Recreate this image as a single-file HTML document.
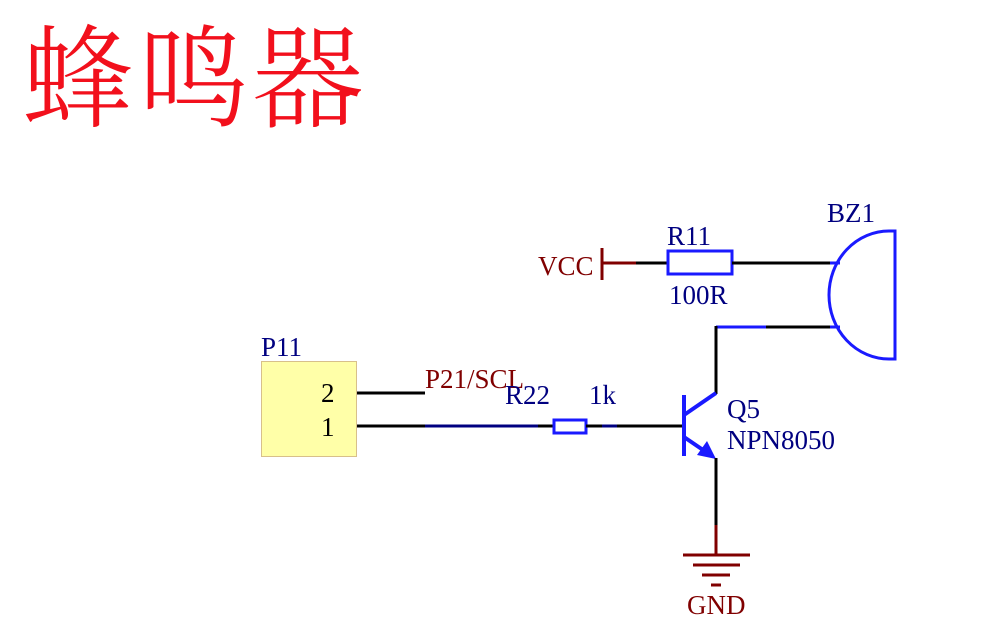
<!DOCTYPE html>
<html><head><meta charset="utf-8"><style>
html,body{margin:0;padding:0;background:#fff;}
svg{display:block}
text{font-family:"Liberation Serif",serif;}
</style></head><body>
<svg width="990" height="633" viewBox="0 0 990 633" xmlns="http://www.w3.org/2000/svg">
<text x="22" y="118" font-size="112" fill="#f2101c" style='font-family:"Liberation Serif","Noto Serif CJK SC",serif;font-weight:300' letter-spacing="3">蜂鸣器</text>

<text x="538" y="275" font-size="27" fill="#800000">VCC</text>
<line x1="602" y1="248" x2="602" y2="280" stroke="#800000" stroke-width="3"/>
<line x1="602" y1="263" x2="636" y2="263" stroke="#800000" stroke-width="3"/>
<line x1="636" y1="263" x2="667" y2="263" stroke="#000" stroke-width="3"/>
<rect x="668" y="251" width="64" height="23" fill="none" stroke="#1a1aff" stroke-width="3"/>
<text x="667" y="245" font-size="27" fill="#000080">R11</text>
<text x="669" y="304" font-size="27" fill="#000080">100R</text>
<line x1="732" y1="263" x2="830" y2="263" stroke="#000" stroke-width="3"/>
<line x1="830" y1="263" x2="840" y2="263" stroke="#1a1aff" stroke-width="3"/>
<text x="827" y="222" font-size="27" fill="#000080">BZ1</text>
<path d="M895 231 L895 359 L889 359 A60 64 0 0 1 889 231 Z" fill="none" stroke="#1a1aff" stroke-width="3"/>
<line x1="716" y1="327" x2="766" y2="327" stroke="#1a1aff" stroke-width="3"/>
<line x1="766" y1="327" x2="830" y2="327" stroke="#000" stroke-width="3"/>
<line x1="830" y1="327" x2="840" y2="327" stroke="#1a1aff" stroke-width="3"/>
<line x1="716" y1="326" x2="716" y2="394" stroke="#000" stroke-width="3"/>

<text x="261" y="356" font-size="27" fill="#000080">P11</text>
<rect x="261.5" y="361.5" width="95" height="95" fill="#ffffa8" stroke="#d8c08a" stroke-width="1"/>
<text x="321" y="402" font-size="27" fill="#000">2</text>
<text x="321" y="436" font-size="27" fill="#000">1</text>
<line x1="357" y1="393" x2="425" y2="393" stroke="#000" stroke-width="3"/>
<text x="425" y="388" font-size="27" fill="#800000">P21/SCL</text>
<line x1="357" y1="426" x2="425" y2="426" stroke="#000" stroke-width="3"/>
<line x1="425" y1="426" x2="538" y2="426" stroke="#000080" stroke-width="3"/>
<line x1="538" y1="426" x2="554" y2="426" stroke="#000" stroke-width="3"/>
<rect x="554" y="420" width="32" height="13" fill="none" stroke="#1a1aff" stroke-width="3"/>
<line x1="586" y1="426" x2="602" y2="426" stroke="#000" stroke-width="3"/>
<line x1="602" y1="426" x2="617" y2="426" stroke="#000080" stroke-width="3"/>
<line x1="617" y1="426" x2="685" y2="426" stroke="#000" stroke-width="3"/>
<text x="505" y="404" font-size="27" fill="#000080">R22</text>
<text x="589" y="404" font-size="27" fill="#000080">1k</text>

<line x1="684" y1="395" x2="684" y2="456" stroke="#1a1aff" stroke-width="4"/>
<line x1="684" y1="415" x2="716" y2="393" stroke="#1a1aff" stroke-width="4"/>
<line x1="684" y1="437" x2="706" y2="452" stroke="#1a1aff" stroke-width="4"/>
<polygon points="716,459 697,455 707,441" fill="#1a1aff"/>
<text x="727" y="418" font-size="27" fill="#000080">Q5</text>
<text x="727" y="449" font-size="27" fill="#000080">NPN8050</text>
<line x1="716" y1="458" x2="716" y2="526" stroke="#000" stroke-width="3"/>
<line x1="716" y1="525" x2="716" y2="555" stroke="#800000" stroke-width="3"/>
<line x1="683" y1="555" x2="750" y2="555" stroke="#800000" stroke-width="3"/>
<line x1="693" y1="565" x2="740" y2="565" stroke="#800000" stroke-width="3"/>
<line x1="702" y1="575" x2="730" y2="575" stroke="#800000" stroke-width="3"/>
<line x1="711" y1="585" x2="721" y2="585" stroke="#800000" stroke-width="3"/>
<text x="687" y="614" font-size="27" fill="#800000">GND</text>
</svg>
</body></html>
